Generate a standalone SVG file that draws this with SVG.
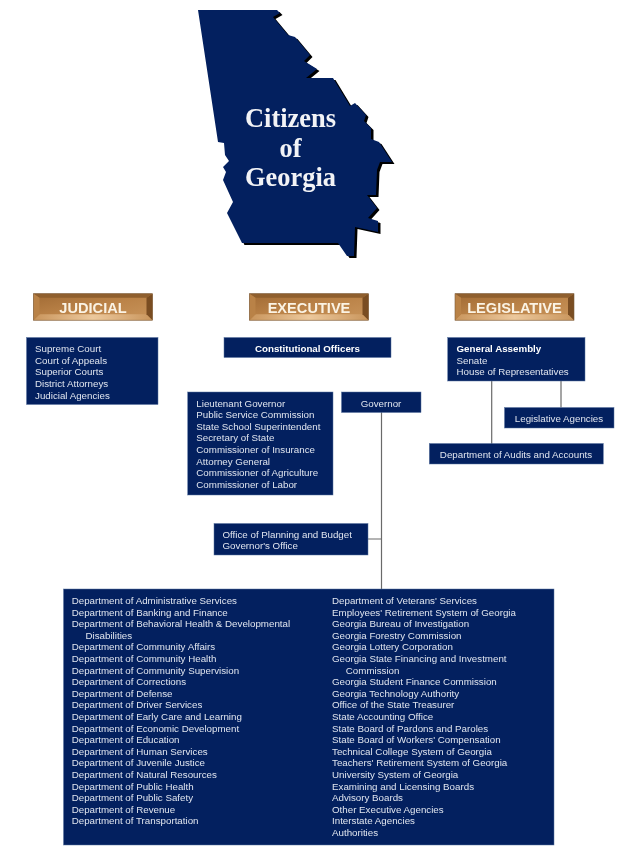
<svg xmlns="http://www.w3.org/2000/svg" width="633" height="859" viewBox="0 0 633 859">
<style>
.box{fill:#03205f;stroke:#5a74a0;stroke-width:.5}
text{font-family:"Liberation Sans",Arial,sans-serif;filter:url(#soft)}
.t{font-size:9.75px;fill:#dfe4ee}
.b{font-weight:bold;fill:#fff}
.c{text-anchor:middle}
.lnk{stroke:#6a6a6a;stroke-width:1.2;fill:none}
.btn{font-size:14.6px;font-weight:bold;fill:#fbf3e4;text-anchor:middle}
.st{font-family:"Liberation Serif","Times New Roman",serif;font-size:26.4px;font-weight:bold;fill:#f2f3f6;text-anchor:middle}
</style>
<defs>
<filter id="soft" x="-5%" y="-20%" width="110%" height="140%"><feGaussianBlur stdDeviation="0.3"/></filter>
<clipPath id="shadowclip"><rect x="240" y="0" width="200" height="270"/></clipPath>
<path id="ga" d="M198 10L277 10L280 13L273 17L288 35L295 37L310 55L304 61L317 69L306 78L333 78L350 106L355 103L366 115L364 121L371 128L371 139L379 142L392 162L380 162L377 170L376 195L367 195L377 208L368 218L378 221L378 232L355 227L354 256L347 256L338 243L242 243L227 213L233 202L223 180L226 172L223 167L229 161L225 155L224 143L218 142Z"/>
<linearGradient id="gm" x1="0" y1="0" x2="1" y2="1"><stop offset="0" stop-color="#a06a34"/><stop offset=".5" stop-color="#bb8348"/><stop offset="1" stop-color="#c9955c"/></linearGradient>
<linearGradient id="gb" x1="0" y1="0" x2="1" y2="0"><stop offset="0" stop-color="#c9955c"/><stop offset=".5" stop-color="#ecc89c"/><stop offset="1" stop-color="#c9955c"/></linearGradient>
<g id="bevel">
<rect width="119" height="26.500" fill="url(#gm)"/>
<polygon points="0,0 119,0 113,4 6,4" fill="#8f5f2e"/>
<polygon points="0,26.500 119,26.500 113,20.500 6,20.500" fill="url(#gb)"/>
<polygon points="0,0 6,4 6,20.500 0,26.500" fill="#b98247"/>
<polygon points="119,0 113,4 113,20.500 119,26.500" fill="#7a4d22"/>
<rect width="119" height="26.500" fill="none" stroke="#7a5a3a" stroke-width=".6"/>
</g>
</defs>

<g id="connectors">
<path class="lnk" d="M381.500 412V589M368 539H381.500M491.700 381V444M561 381V407.500"/>
</g>

<g id="citizens">
<use href="#ga" x="2.500" y="2" fill="#000" clip-path="url(#shadowclip)"/>
<use href="#ga" fill="#03205f"/>
<text class="st" x="290.500" y="127">Citizens</text>
<text class="st" x="290.500" y="157">of</text>
<text class="st" x="290.500" y="186">Georgia</text>
</g>

<g id="judicial-head"><use href="#bevel" x="33.500" y="293.700"/><text class="btn" x="93" y="312.500">JUDICIAL</text></g>
<g id="executive-head"><use href="#bevel" x="249.500" y="293.700"/><text class="btn" x="309" y="312.500">EXECUTIVE</text></g>
<g id="legislative-head"><use href="#bevel" x="455" y="293.700"/><text class="btn" x="514.500" y="312.500">LEGISLATIVE</text></g>

<g id="judicial">
<rect class="box" x="26.500" y="337.500" width="131.500" height="67"/>
<text class="t" x="35" y="352">Supreme Court</text>
<text class="t" x="35" y="363.600">Court of Appeals</text>
<text class="t" x="35" y="375.300">Superior Courts</text>
<text class="t" x="35" y="387">District Attorneys</text>
<text class="t" x="35" y="398.600">Judicial Agencies</text>
</g>

<g id="constitutional">
<rect class="box" x="224" y="337.500" width="167" height="20"/>
<text class="t b c" x="307.500" y="352">Constitutional Officers</text>
</g>

<g id="general-assembly">
<rect class="box" x="447.700" y="337.500" width="137.300" height="43.500"/>
<text class="t b" x="456.500" y="352">General Assembly</text>
<text class="t" x="456.500" y="363.600">Senate</text>
<text class="t" x="456.500" y="375.300">House of Representatives</text>
</g>

<g id="governor">
<rect class="box" x="341.500" y="392" width="79.500" height="20.500"/>
<text class="t c" x="381" y="406.500">Governor</text>
</g>

<g id="legislative-agencies">
<rect class="box" x="504.500" y="407.500" width="109.500" height="20.500"/>
<text class="t c" x="559" y="422">Legislative Agencies</text>
</g>

<g id="audits">
<rect class="box" x="429.300" y="443.500" width="174" height="20.500"/>
<text class="t c" x="516" y="458">Department of Audits and Accounts</text>
</g>

<g id="officers">
<rect class="box" x="187.700" y="392" width="145.300" height="103"/>
<text class="t" x="196.300" y="406.500">Lieutenant Governor</text>
<text class="t" x="196.300" y="418.100">Public Service Commission</text>
<text class="t" x="196.300" y="429.800">State School Superintendent</text>
<text class="t" x="196.300" y="441.400">Secretary of State</text>
<text class="t" x="196.300" y="453">Commissioner of Insurance</text>
<text class="t" x="196.300" y="464.700">Attorney General</text>
<text class="t" x="196.300" y="476.300">Commissioner of Agriculture</text>
<text class="t" x="196.300" y="488">Commissioner of Labor</text>
</g>

<g id="planning">
<rect class="box" x="214" y="523.500" width="154" height="31.500"/>
<text class="t" x="222.500" y="537.500">Office of Planning and Budget</text>
<text class="t" x="222.500" y="549.200">Governor's Office</text>
</g>

<g id="agencies">
<rect class="box" x="63.500" y="589" width="490.500" height="256"/>
<text class="t" x="71.700" y="604">Department of Administrative Services</text>
<text class="t" x="71.700" y="615.600">Department of Banking and Finance</text>
<text class="t" x="71.700" y="627.200">Department of Behavioral Health &amp; Developmental</text>
<text class="t" x="85.500" y="638.800">Disabilities</text>
<text class="t" x="71.700" y="650.400">Department of Community Affairs</text>
<text class="t" x="71.700" y="662">Department of Community Health</text>
<text class="t" x="71.700" y="673.600">Department of Community Supervision</text>
<text class="t" x="71.700" y="685.200">Department of Corrections</text>
<text class="t" x="71.700" y="696.800">Department of Defense</text>
<text class="t" x="71.700" y="708.400">Department of Driver Services</text>
<text class="t" x="71.700" y="720">Department of Early Care and Learning</text>
<text class="t" x="71.700" y="731.600">Department of Economic Development</text>
<text class="t" x="71.700" y="743.200">Department of Education</text>
<text class="t" x="71.700" y="754.800">Department of Human Services</text>
<text class="t" x="71.700" y="766.400">Department of Juvenile Justice</text>
<text class="t" x="71.700" y="778">Department of Natural Resources</text>
<text class="t" x="71.700" y="789.600">Department of Public Health</text>
<text class="t" x="71.700" y="801.200">Department of Public Safety</text>
<text class="t" x="71.700" y="812.800">Department of Revenue</text>
<text class="t" x="71.700" y="824.400">Department of Transportation</text>
<text class="t" x="332" y="604">Department of Veterans' Services</text>
<text class="t" x="332" y="615.600">Employees' Retirement System of Georgia</text>
<text class="t" x="332" y="627.200">Georgia Bureau of Investigation</text>
<text class="t" x="332" y="638.800">Georgia Forestry Commission</text>
<text class="t" x="332" y="650.400">Georgia Lottery Corporation</text>
<text class="t" x="332" y="662">Georgia State Financing and Investment</text>
<text class="t" x="345.800" y="673.600">Commission</text>
<text class="t" x="332" y="685.200">Georgia Student Finance Commission</text>
<text class="t" x="332" y="696.800">Georgia Technology Authority</text>
<text class="t" x="332" y="708.400">Office of the State Treasurer</text>
<text class="t" x="332" y="720">State Accounting Office</text>
<text class="t" x="332" y="731.600">State Board of Pardons and Paroles</text>
<text class="t" x="332" y="743.200">State Board of Workers' Compensation</text>
<text class="t" x="332" y="754.800">Technical College System of Georgia</text>
<text class="t" x="332" y="766.400">Teachers' Retirement System of Georgia</text>
<text class="t" x="332" y="778">University System of Georgia</text>
<text class="t" x="332" y="789.600">Examining and Licensing Boards</text>
<text class="t" x="332" y="801.200">Advisory Boards</text>
<text class="t" x="332" y="812.800">Other Executive Agencies</text>
<text class="t" x="332" y="824.400">Interstate Agencies</text>
<text class="t" x="332" y="836">Authorities</text>
</g>
</svg>
